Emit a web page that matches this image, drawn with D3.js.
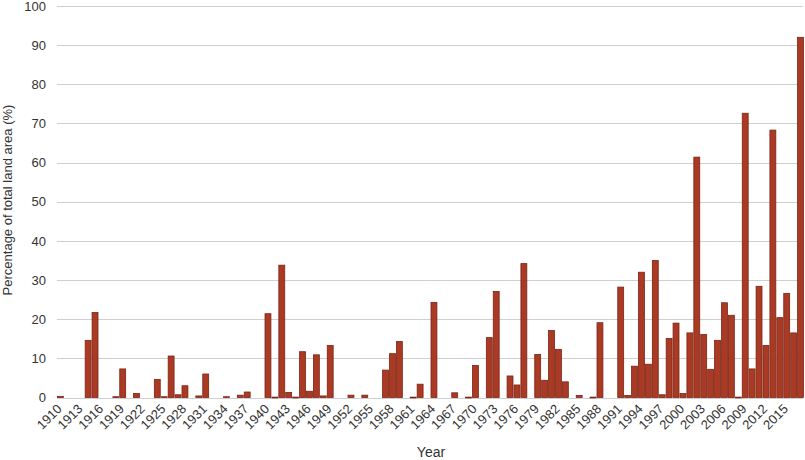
<!DOCTYPE html>
<html>
<head>
<meta charset="utf-8">
<script src="https://cdn.jsdelivr.net/npm/d3@7"></script>
<style>
  body { margin: 0; background: #fff; }
  svg { display: block; font-family: "Liberation Sans", Arial, Helvetica, sans-serif; }
</style>
</head>
<body>
<svg id="chart" width="805" height="460"></svg>
<script>
const years = d3.range(1910, 2018);
const values = [
  0.3, 0, 0, 0, 14.6, 21.7, 0, 0, 0.2, 7.3,
  0, 1.0, 0, 0, 4.6, 0.2, 10.6, 0.7, 3.0, 0,
  0.4, 6.0, 0, 0, 0.2, 0, 0.6, 1.4, 0, 0,
  21.4, 0.1, 33.8, 1.3, 0.1, 11.7, 1.6, 10.9, 0.4, 13.3,
  0, 0, 0.6, 0, 0.6, 0, 0, 7.0, 11.2, 14.3,
  0, 0.1, 3.4, 0, 24.3, 0, 0, 1.2, 0, 0.1,
  8.2, 0, 15.3, 27.1, 0, 5.5, 3.2, 34.2, 0, 11.0,
  4.4, 17.1, 12.3, 4.0, 0, 0.5, 0, 0.1, 19.1, 0,
  0, 28.2, 0.5, 8.0, 32.0, 8.5, 35.0, 0.7, 15.1, 19.0,
  1.0, 16.5, 61.4, 16.1, 7.2, 14.6, 24.2, 21.0, 0.1, 72.6,
  7.3, 28.4, 13.3, 68.3, 20.4, 26.6, 16.5, 92.0
];
const yTicks = [0, 10, 20, 30, 40, 50, 60, 70, 80, 90, 100];
const xTickYears = d3.range(1910, 2018, 3);
const yTitle = "Percentage of total land area (%)";
const xTitle = "Year";

const data = years.map((yr, i) => ({ year: yr, value: values[i] }));

const svg = d3.select("#chart");
const mLeft = 57, mRight = 804, mTop = 6, mBottom = 397.5;

const x = d3.scaleBand().domain(years).range([mLeft, mRight]).padding(0);
const y = d3.scaleLinear().domain([0, 100]).range([mBottom, mTop]);

// gridlines
svg.append("g")
  .selectAll("line")
  .data(yTicks)
  .join("line")
  .attr("x1", mLeft).attr("x2", 803)
  .attr("y1", d => Math.round(y(d)) + 0.5).attr("y2", d => Math.round(y(d)) + 0.5)
  .attr("stroke", "#cfcfcf").attr("stroke-width", 1);

// y axis labels
const yAxis = d3.axisLeft(y).tickValues(yTicks).tickSize(0).tickPadding(0);
const gy = svg.append("g").attr("transform", `translate(46,0)`).call(yAxis);
gy.select(".domain").remove();
gy.selectAll("text").attr("font-size", 13).attr("fill", "#333")
  .attr("font-family", "'Liberation Sans', Arial, sans-serif");

// bars
svg.append("g")
  .selectAll("rect")
  .data(data.filter(d => d.value > 0))
  .join("rect")
  .attr("x", d => x(d.year) + 0.5)
  .attr("width", x.bandwidth() - 1)
  .attr("y", d => y(d.value))
  .attr("height", d => Math.max(0.8, y(0) - y(d.value)))
  .attr("fill", "#ab3a25")
  .attr("stroke", "#7a2414")
  .attr("stroke-width", 0.8);

// x axis labels
const xAxis = d3.axisBottom(x).tickValues(xTickYears).tickSize(0).tickPadding(0);
const gx = svg.append("g").attr("transform", `translate(0,${mBottom})`).call(xAxis);
gx.select(".domain").remove();
gx.selectAll("text")
  .attr("font-size", 13).attr("fill", "#333")
  .attr("font-family", "'Liberation Sans', Arial, sans-serif")
  .attr("text-anchor", "end")
  .attr("y", 0)
  .attr("dy", "0.35em")
  .attr("transform", "translate(-1,9) rotate(-45)");

// titles
svg.append("text")
  .attr("transform", "translate(12,200) rotate(-90)")
  .attr("text-anchor", "middle")
  .attr("font-size", 13).attr("fill", "#333")
  .text(yTitle);

svg.append("text")
  .attr("x", 431).attr("y", 457)
  .attr("text-anchor", "middle")
  .attr("font-size", 14).attr("fill", "#333")
  .text(xTitle);
</script>
</body>
</html>
